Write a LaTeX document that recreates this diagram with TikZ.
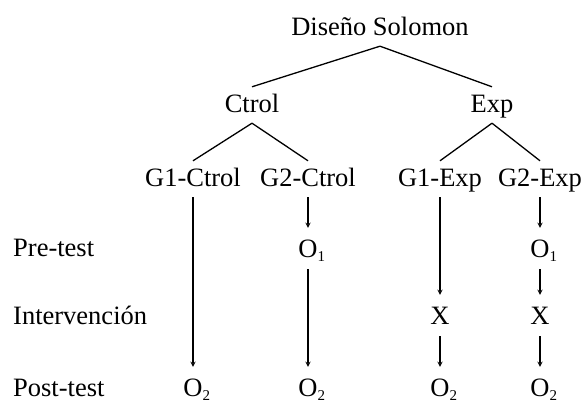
\documentclass[tikz,border=0pt]{standalone}
\usepackage{fontspec}
\setmainfont{Liberation Serif}
\newfontfamily\tms{Liberation Serif}
\usepackage{tikz}
\newcommand*{\fs}{26.5}
\newcommand*{\sub}[1]{\rlap{\raisebox{-4pt}{\fontsize{15}{15}\selectfont #1}}}

\begin{document}
\begin{tikzpicture}[
   x=1pt, y=-1pt,
   every node/.style={font=\tms\fontsize{\fs}{30}\selectfont},
   tree/.style={anchor=base, inner xsep=2pt, inner ysep=5pt,
                text height=21pt, text depth=5pt},
   obs/.style={anchor=base, inner xsep=2pt, inner ysep=6pt,
               text height=24pt, text depth=5pt},
   row/.style={anchor=base west, inner sep=0pt},
   link/.style={line width=1.3},
   arr/.style={->, >=stealth, line width=1.3}
  ]

  \useasboundingbox (0, 0) rectangle (584, 403);

  % Tree
  \node (S) at (380, 36) [tree] {Diseño Solomon};
  \node (C) at (252, 113) [tree] {Ctrol};
  \node (E) at (492, 113) [tree] {Exp};

  \node (C1) at (193, 187) [tree] {G1-Ctrol};
  \node (C2) at (308, 187) [tree] {G2-Ctrol};
  \node (E1) at (440, 187) [tree] {G1-Exp};
  \node (E2) at (540, 187) [tree] {G2-Exp};

  % Phases
  \node (P) at (13, 257) [row] {Pre-test};
  \node (I) at (13, 325) [row] {Intervención};
  \node (Q) at (13, 397) [row] {Post-test};

  \node (C2pre) at (308, 258) [obs] {O\sub{1}};
  \node (E2pre) at (540, 258) [obs] {O\sub{1}};

  \node (E1int) at (440, 325) [obs] {X};
  \node (E2int) at (540, 325) [obs] {X};

  \node (C1post) at (193, 397) [obs] {O\sub{2}};
  \node (C2post) at (308, 397) [obs] {O\sub{2}};
  \node (E1post) at (440, 397) [obs] {O\sub{2}};
  \node (E2post) at (540, 397) [obs] {O\sub{2}};

  \foreach \B/\E in {S/C, S/E, C/C1, C/C2, E/E1, E/E2} {
    \draw[link] (\B.south) -- (\E.north);
  }

  \foreach \B/\E in {C1/C1post, C2/C2pre, C2pre/C2post, E1/E1int, E1int/E1post,
                     E2/E2pre, E2pre/E2int, E2int/E2post} {
    \draw[arr] (\B) -- (\E);
  }

\end{tikzpicture}
\end{document}
